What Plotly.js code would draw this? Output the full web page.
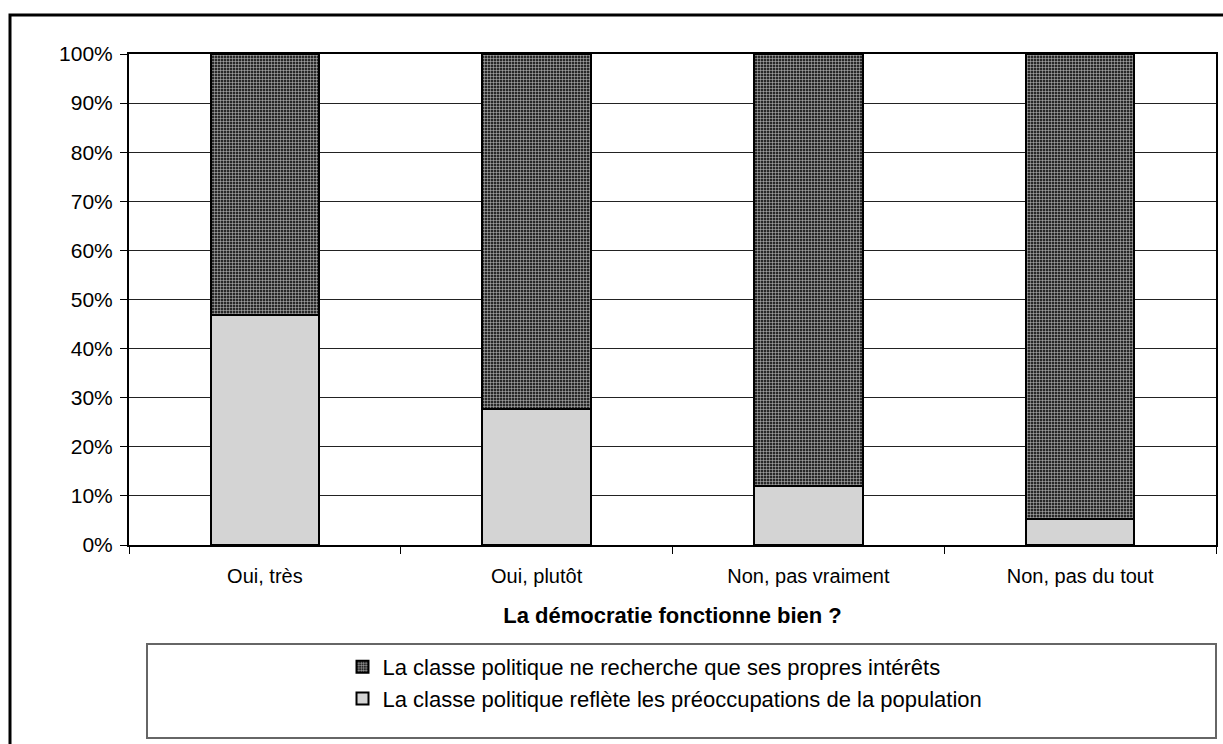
<!DOCTYPE html>
<html>
<head>
<meta charset="utf-8">
<script src="https://cdn.plot.ly/plotly-3.0.1.min.js"></script>
<style>
html,body{margin:0;padding:0;background:#fff;}
#chart{width:1223px;height:744px;}
</style>
</head>
<body>
<div id="chart"></div>
<script>
var categories = ["Oui, très", "Oui, plutôt", "Non, pas vraiment", "Non, pas du tout"];
var reflete = [0.469, 0.278, 0.120, 0.053];
var interets = [0.531, 0.722, 0.880, 0.947];
var seriesNames = [
  "La classe politique reflète les préoccupations de la population",
  "La classe politique ne recherche que ses propres intérêts"
];
var yTickVals = [0, 0.1, 0.2, 0.3, 0.4, 0.5, 0.6, 0.7, 0.8, 0.9, 1.0];
var yTickText = ["0%", "10%", "20%", "30%", "40%", "50%", "60%", "70%", "80%", "90%", "100%"];
var xTitle = "La démocratie fonctionne bien ?";

var font = "Liberation Sans, Arial, sans-serif";

var traces = [
  {
    type: "bar", x: categories, y: reflete, name: seriesNames[0],
    width: 0.4, legendrank: 2,
    marker: {color: "#d4d4d4", line: {color: "#000", width: 2}},
    hoverinfo: "none"
  },
  {
    type: "bar", x: categories, y: interets, name: seriesNames[1],
    width: 0.4, legendrank: 1,
    marker: {color: "#3a3a3a", line: {color: "#000", width: 2},
      pattern: {shape: "+", fgcolor: "#c8c8c8", bgcolor: "#282828", size: 3, solidity: 0.3}},
    hoverinfo: "none"
  }
];

var L = 129, R = 1216, T = 54, B = 545;
var W = R - L, H = B - T;
function px(x){ return (x - L) / W; }
function py(y){ return (B - y) / H; }

var layout = {
  width: 1223, height: 744,
  margin: {l: L, r: 1223 - R, t: T, b: 744 - B},
  paper_bgcolor: "#fff", plot_bgcolor: "#fff",
  barmode: "stack",
  font: {family: font, size: 20, color: "#000"},
  showlegend: true,
  legend: {
    x: px(665), xanchor: "center", y: py(646), yanchor: "top",
    traceorder: "normal",
    bgcolor: "rgba(0,0,0,0)", borderwidth: 0,
    font: {family: font, size: 22, color: "#000"}
  },
  xaxis: {
    type: "category",
    showline: true, linecolor: "#000", linewidth: 2, mirror: true,
    ticks: "outside", tickson: "boundaries", ticklen: 7, tickcolor: "#000", tickwidth: 1,
    ticklabelstandoff: 12,
    showgrid: false, zeroline: false,
    tickfont: {family: font, size: 20},
    title: {text: "<b>" + xTitle + "</b>", font: {family: font, size: 22}, standoff: 22}
  },
  yaxis: {
    range: [0, 1], tickvals: yTickVals, ticktext: yTickText,
    showline: true, linecolor: "#000", linewidth: 2, mirror: true,
    ticks: "outside", ticklen: 7, tickcolor: "#000", tickwidth: 1,
    ticklabelstandoff: 3,
    showgrid: true, gridcolor: "#222", gridwidth: 1, zeroline: false,
    tickfont: {family: font, size: 21}
  },
  shapes: [
    {type: "rect", xref: "paper", yref: "paper",
      x0: px(10), x1: px(1270), y0: py(15), y1: py(780),
      line: {color: "#000", width: 3}, fillcolor: "rgba(0,0,0,0)", layer: "below"},
    {type: "rect", xref: "paper", yref: "paper",
      x0: px(147), x1: px(1216), y0: py(644), y1: py(738),
      line: {color: "#666", width: 2}, fillcolor: "rgba(0,0,0,0)"}
  ]
};

Plotly.newPlot("chart", traces, layout, {staticPlot: true, displayModeBar: false});
</script>
</body>
</html>
